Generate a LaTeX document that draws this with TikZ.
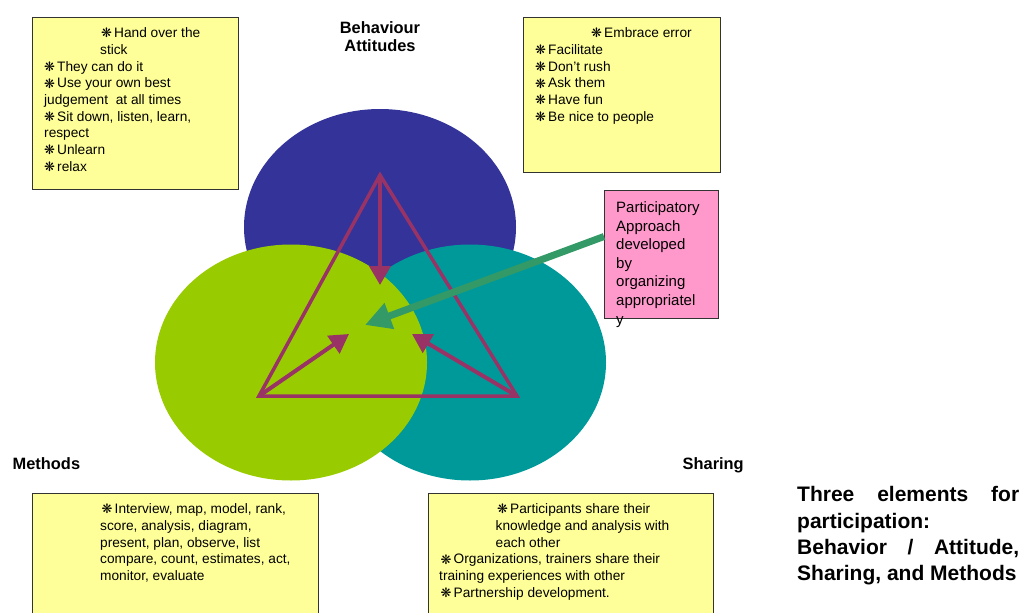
\documentclass[tikz,border=0pt]{standalone}
\usepackage{fontspec}
\setmainfont{Liberation Sans}
\newfontfamily\dingfont{DejaVu Sans}
\usetikzlibrary{shapes.geometric,arrows.meta,calc}

\definecolor{behavblue}{HTML}{333399}
\definecolor{methodgreen}{HTML}{99CC00}
\definecolor{shareteal}{HTML}{009999}
\definecolor{linkplum}{HTML}{993366}
\definecolor{pointgreen}{HTML}{339966}
\definecolor{noteyellow}{HTML}{FFFF99}
\definecolor{notepink}{HTML}{FF99CC}

% small dingbat used as list bullet
\newcommand{\bul}{\makebox[13pt][l]{\dingfont\fontsize{13}{13}\selectfont\raisebox{-0.3pt}{❋}}}

\begin{document}
\begin{tikzpicture}[x=1pt,y=-1pt,
  circ/.style={ellipse, minimum width=272pt, minimum height=236pt, inner sep=0pt, draw=none},
  notebox/.style={draw=black!80, line width=1.2pt, fill=noteyellow, anchor=north west, inner sep=0pt},
  notetext/.style={anchor=north west, inner sep=0pt, align=left, font=\fontsize{13.7}{16.7}\selectfont},
  heading/.style={inner sep=0pt, font=\bfseries\fontsize{16.4}{18.3}\selectfont, align=center},
  edge/.style={draw=linkplum, line width=3.5pt, line join=miter},
  pull/.style={draw=linkplum, line width=4pt, -{Triangle[width=21pt,length=19pt]}},
  feed/.style={draw=pointgreen, line width=7pt, -{Triangle[width=26pt,length=26pt]}}]

\clip (0,0) rectangle (1026,613);
\useasboundingbox (0,0) rectangle (1026,613);

% three overlapping elements
\node[circ, fill=behavblue]   (behav) at (380,227) {};
\node[circ, fill=shareteal]   (share) at (470,362.5) {};
\node[circ, fill=methodgreen] (meth)  at (291,362.5) {};

% triangle linking the elements
\coordinate (apex)  at (380,175);
\coordinate (left)  at (259,396);
\coordinate (right) at (517,396);
\draw[edge] (apex) -- (left) -- (right) -- cycle;

% arrows pointing to the shared centre
\coordinate (hubtop)   at (380,285);
\coordinate (hubleft)  at (349,334);
\coordinate (hubright) at (412,334);
\coordinate (hubnote)  at (365,325);
\draw[pull] (apex)  -- (hubtop);
\draw[pull] (left)  -- (hubleft);
\draw[pull] (right) -- (hubright);

% pink note with its pointer
\node[draw=black!80, line width=1.2pt, fill=notepink, anchor=north west, inner sep=0pt,
      minimum width=114pt, minimum height=128pt] (pink) at (604,190) {};
\node[anchor=north west, inner sep=0pt, align=left, font=\fontsize{15}{18.6}\selectfont]
  (pinktext) at (616,201.5) {Participatory\\Approach\\developed\\by\\organizing\\appropriatel\\y};
\draw[feed] ($(pink.north west)!0.36!(pink.south west)$) -- (hubnote);

% headings
\node[heading] (behavlabel) at (380,36.5) {Behaviour\\Attitudes};
\node[heading, anchor=base west] (methlabel) at (12.5,469.5) {Methods};
\node[heading, anchor=base west] (sharelabel) at (682.5,469.5) {Sharing};

% note boxes
\node[notebox, minimum width=206pt, minimum height=172pt] (tlbox) at (32,16.5) {};
\node[notetext] (tltext) at (44,27.5) {%
  \hspace*{57pt}\bul Hand over the\\
  \hspace*{56pt}stick\\
  \bul They can do it\\
  \bul Use your own best\\
  judgement\ \ at all times\\
  \bul Sit down, listen, learn,\\
  respect\\
  \bul Unlearn\\
  \bul relax};

\node[notebox, minimum width=197pt, minimum height=155pt] (trbox) at (522.5,16.5) {};
\node[notetext] (trtext) at (535,27.5) {%
  \hspace*{56pt}\bul Embrace error\\
  \bul Facilitate\\
  \bul Don’t rush\\
  \bul Ask them\\
  \bul Have fun\\
  \bul Be nice to people};

\node[notebox, minimum width=286pt, minimum height=140pt] (blbox) at (31.5,492.5) {};
\node[notetext] (bltext) at (100,503.5) {%
  \hspace*{1.5pt}\bul Interview, map, model, rank,\\
  score, analysis, diagram,\\
  present, plan, observe, list\\
  compare, count, estimates, act,\\
  monitor, evaluate};

\node[notebox, minimum width=285pt, minimum height=140pt] (brbox) at (427.5,492.5) {};
\node[notetext] (brtext) at (439,503.5) {%
  \hspace*{58pt}\bul Participants share their\\
  \hspace*{56.5pt}knowledge and analysis with\\
  \hspace*{56.5pt}each other\\
  \hspace*{1.5pt}\bul Organizations, trainers share their\\
  training experiences with other\\
  \hspace*{1.5pt}\bul Partnership development.};

% caption
\node[anchor=north west, inner sep=0pt, align=left, font=\bfseries\fontsize{21}{26.3}\selectfont]
  (caption) at (797,486.5) {%
  \makebox[222pt][s]{Three elements for}\\
  participation:\\
  \makebox[222pt][s]{Behavior / Attitude,}\\
  Sharing, and Methods};

\end{tikzpicture}
\end{document}
